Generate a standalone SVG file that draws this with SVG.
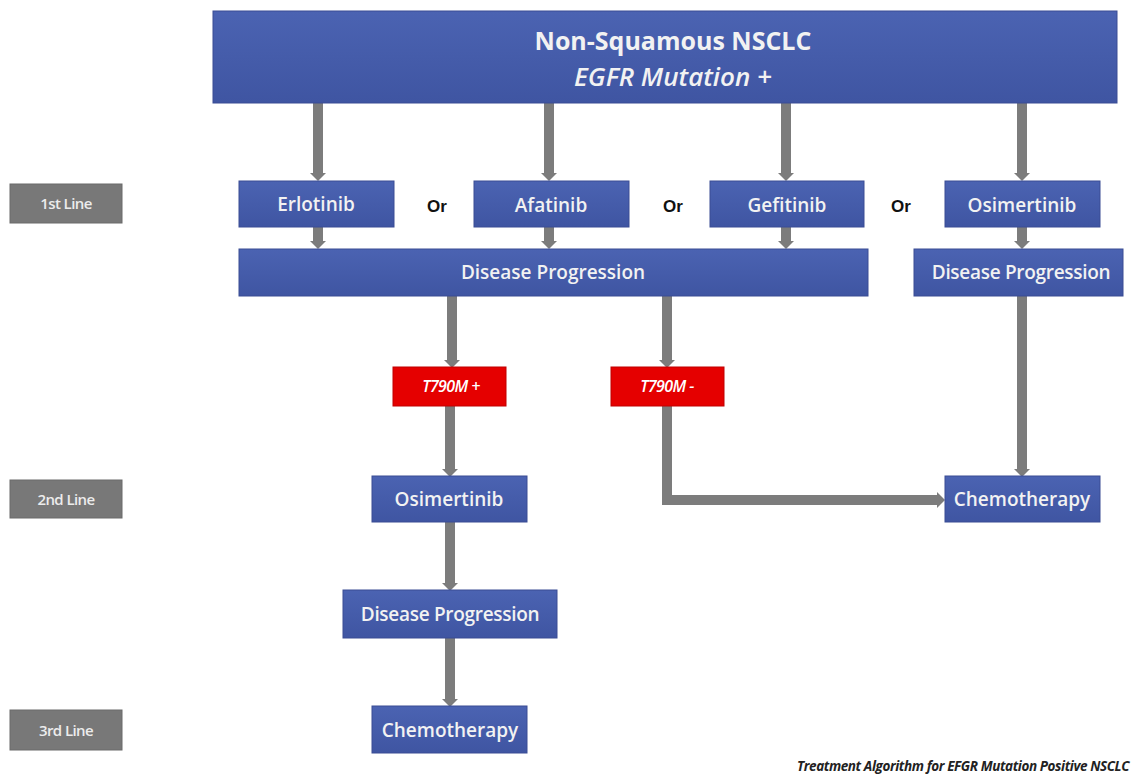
<svg xmlns="http://www.w3.org/2000/svg" width="1137" height="775" viewBox="0 0 1137 775">
<style>
.box{fill:url(#bg);stroke:#3a4d94;stroke-width:1}
.lbl{fill:#787878;stroke:#6a6a6a;stroke-width:1}
.red{fill:#e50000;stroke:#c00000;stroke-width:1}
.t{font-family:"Open Sans","Liberation Sans",sans-serif;font-weight:600;font-size:19px;fill:#f2f2f2;text-anchor:middle;dominant-baseline:central}
.lt{font-family:"Open Sans","Liberation Sans",sans-serif;font-weight:600;font-size:15px;fill:#ececec;text-anchor:middle;dominant-baseline:central;letter-spacing:-0.6px}
.rt{font-family:"Open Sans","Liberation Sans",sans-serif;font-style:italic;font-weight:600;font-size:16px;fill:#fff;text-anchor:middle;dominant-baseline:central;letter-spacing:-0.6px}
.or{font-family:"Liberation Sans",sans-serif;font-weight:bold;font-size:17px;fill:#111;text-anchor:middle;dominant-baseline:central}
.c{fill:none;stroke:#7c7c7c;stroke-width:10}
</style>
<defs>
<linearGradient id="bg" x1="0" y1="0" x2="0" y2="1">
<stop offset="0" stop-color="#4b63b2"/>
<stop offset="1" stop-color="#3f55a2"/>
</linearGradient>
<path id="head" d="M-8,-8 L8,-8 L0,0 Z" fill="#7c7c7c"/>
</defs>
<rect width="1137" height="775" fill="#fff"/>
<g id="connectors">
<path class="c" d="M318,103 V174"/><use href="#head" x="318" y="181"/>
<path class="c" d="M549,103 V174"/><use href="#head" x="549" y="181"/>
<path class="c" d="M786,103 V174"/><use href="#head" x="786" y="181"/>
<path class="c" d="M1022,103 V174"/><use href="#head" x="1022" y="181"/>
<path class="c" d="M318,227 V243"/><use href="#head" x="318" y="249"/>
<path class="c" d="M549,227 V243"/><use href="#head" x="549" y="249"/>
<path class="c" d="M786,227 V243"/><use href="#head" x="786" y="249"/>
<path class="c" d="M1022,227 V243"/><use href="#head" x="1022" y="249"/>
<path class="c" d="M452,296 V361"/><use href="#head" x="452" y="368"/>
<path class="c" d="M667,296 V361"/><use href="#head" x="667" y="368"/>
<path class="c" d="M450,406 V470"/><use href="#head" x="450" y="477"/>
<path class="c" d="M667,406 V500 H938"/><use href="#head" x="945" y="500" transform="rotate(-90 945 500)"/>
<path class="c" d="M1022,296 V470"/><use href="#head" x="1022" y="477"/>
<path class="c" d="M450,522 V584"/><use href="#head" x="450" y="591"/>
<path class="c" d="M450,638 V700"/><use href="#head" x="450" y="707"/>
</g>
<g id="top"><rect class="box" x="213" y="11" width="904" height="92"/>
<text class="t" x="673" y="40" style="font-size:25px;font-weight:700">Non-Squamous NSCLC</text>
<text class="t" x="673" y="76" style="font-size:26px;font-style:italic;font-weight:600">EGFR Mutation +</text></g>
<g id="line1"><rect class="lbl" x="10" y="184" width="112" height="39"/><text class="lt" x="66" y="203">1st Line</text></g>
<g id="line2"><rect class="lbl" x="10" y="480" width="112" height="38"/><text class="lt" x="66" y="499">2nd Line</text></g>
<g id="line3"><rect class="lbl" x="10" y="710" width="112" height="40"/><text class="lt" x="66" y="730">3rd Line</text></g>
<g id="erlotinib"><rect class="box" x="239" y="181" width="155" height="46"/><text class="t" x="316" y="204">Erlotinib</text></g>
<g id="afatinib"><rect class="box" x="474" y="181" width="155" height="46"/><text class="t" x="551" y="205">Afatinib</text></g>
<g id="gefitinib"><rect class="box" x="710" y="181" width="154" height="46"/><text class="t" x="787" y="205">Gefitinib</text></g>
<g id="osimertinib1"><rect class="box" x="945" y="181" width="155" height="46"/><text class="t" x="1022" y="205">Osimertinib</text></g>
<g id="or"><text class="or" x="437" y="206">Or</text><text class="or" x="673" y="206">Or</text><text class="or" x="901" y="206">Or</text></g>
<g id="dp1"><rect class="box" x="239" y="249" width="629" height="47"/><text class="t" x="553" y="272">Disease Progression</text></g>
<g id="dp2"><rect class="box" x="914" y="249" width="209" height="47"/><text class="t" x="1021" y="272" style="letter-spacing:-0.3px">Disease Progression</text></g>
<g id="t790plus"><rect class="red" x="393" y="367" width="113" height="39"/><text class="rt" x="451" y="386">T790M +</text></g>
<g id="t790minus"><rect class="red" x="611" y="367" width="113" height="39"/><text class="rt" x="667" y="386">T790M -</text></g>
<g id="osimertinib2"><rect class="box" x="372" y="476" width="155" height="46"/><text class="t" x="449" y="499">Osimertinib</text></g>
<g id="chemo1"><rect class="box" x="945" y="476" width="155" height="46"/><text class="t" x="1022" y="499">Chemotherapy</text></g>
<g id="dp3"><rect class="box" x="343" y="590" width="214" height="48"/><text class="t" x="450" y="614" style="letter-spacing:-0.3px">Disease Progression</text></g>
<g id="chemo2"><rect class="box" x="372" y="706" width="155" height="47"/><text class="t" x="450" y="730">Chemotherapy</text></g>
<text x="797" y="771" font-family="'Open Sans','Liberation Sans',sans-serif" font-style="italic" font-weight="700" font-size="13.5" fill="#222" letter-spacing="-0.4">Treatment Algorithm for EFGR Mutation Positive NSCLC</text>
</svg>
